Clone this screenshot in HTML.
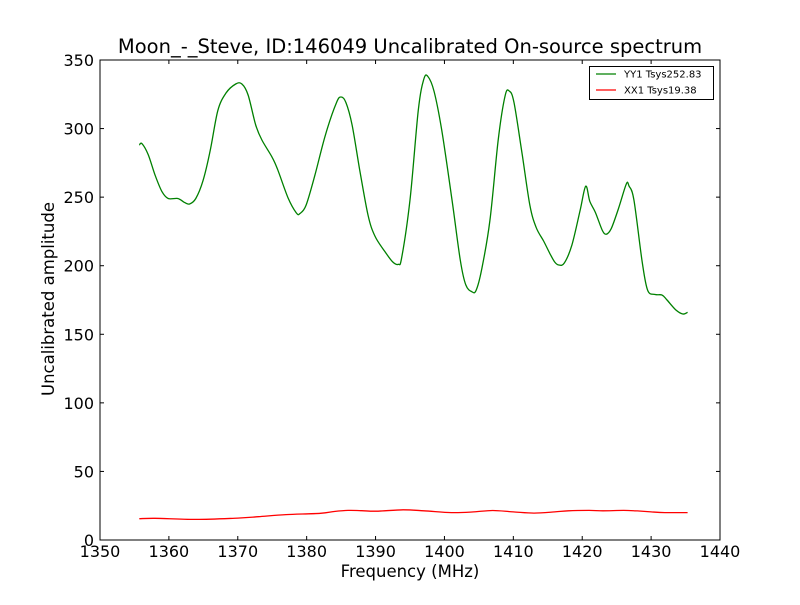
<!DOCTYPE html>
<html><head><meta charset="utf-8"><style>
body{margin:0;background:#fff;}
svg text{font-family:"DejaVu Sans","Liberation Sans",sans-serif;}
</style></head><body>
<svg id="chart" width="800" height="600" viewBox="0 0 800 600">
<rect width="800" height="600" fill="#fff"/>
<text x="410" y="53" font-size="19.5" text-anchor="middle">Moon_-_Steve, ID:146049 Uncalibrated On-source spectrum</text>
<g id="ticks"></g>
<g id="series"></g>
<rect x="100" y="60" width="620" height="480" fill="none" stroke="#000" stroke-width="1"/>
<text x="410" y="577" font-size="16.5" text-anchor="middle">Frequency (MHz)</text>
<text transform="translate(54,299) rotate(-90)" font-size="16.5" text-anchor="middle">Uncalibrated amplitude</text>
<g>
<rect x="589.5" y="66.5" width="124" height="33" fill="#fff" stroke="#000" stroke-width="1"/>
<line x1="596" y1="74" x2="616" y2="74" stroke="#008000" stroke-width="1.2"/>
<text x="624" y="77.5" font-size="10">YY1 Tsys252.83</text>
<line x1="596" y1="90" x2="616" y2="90" stroke="#ff0000" stroke-width="1.2"/>
<text x="624" y="93.5" font-size="10">XX1 Tsys19.38</text>
</g>
</svg>
<script>
const xTicks=[1350,1360,1370,1380,1390,1400,1410,1420,1430,1440];
const yTicks=[0,50,100,150,200,250,300,350];
const yyFreq=[1355.7,1356.1,1357,1358,1359,1359.9,1361.3,1362.3,1363,1363.9,1364.95,1366,1367.1,1368.3,1369.7,1370.6,1371.5,1372.6,1373.5,1375,1375.8,1377.3,1378.5,1379,1379.9,1381.2,1382.7,1384.3,1385,1385.7,1386.6,1387.7,1388.9,1389.9,1391.4,1392.5,1393.3,1393.8,1395,1396.2,1397,1397.6,1398.5,1399.6,1401.1,1402.3,1403.1,1404,1404.6,1405.4,1406.6,1407.8,1408.8,1409.4,1410.1,1411.3,1412.4,1413.3,1414.4,1415.3,1416,1416.6,1417.4,1418.5,1419.7,1420.5,1421.1,1421.9,1422.9,1423.5,1424.2,1425.2,1426.4,1426.8,1427.5,1428.7,1429.5,1430.6,1431.6,1432.3,1433.6,1434.6,1435.3];
const yyVals=[288,289,281,266,254,249,249,246,245,249,262,284,313,326,332.5,332.5,324.5,302.6,291.7,279,270,249.4,238.5,238,244,266,295,318.6,323,319,302.6,269.8,237,221.7,210,202.7,201,206,248,313.5,336,338,327,299,248,204,186,181,182,197,233,291.7,323.8,327.4,319,280.7,244,228,218,209,202.7,200.5,202,215,240.6,258,247,239,226,223,227,240.6,259.6,258,248,202.7,182,179,178.6,175,167.7,164.8,166];
const xxFreq=[1355.7,1358,1364,1370,1373,1377,1382,1384,1386,1388,1390,1394,1397,1401,1404,1407,1410,1413,1416,1418,1421,1423,1426,1428,1430,1432,1435.3];
const xxVals=[15.5,15.8,15,16,17,18.5,19.5,20.8,21.6,21.4,21,22,21.3,20,20.4,21.5,20.5,19.6,20.5,21.3,21.6,21.3,21.6,21.2,20.5,20,20];
const X=f=>100+(f-1350)*620/90;
const Y=v=>540-v*480/350;
const NS="http://www.w3.org/2000/svg";
const tg=document.getElementById('ticks');
xTicks.forEach(t=>{
  [[540,536],[60,64]].forEach(p=>{const l=document.createElementNS(NS,'line');l.setAttribute('x1',X(t));l.setAttribute('x2',X(t));l.setAttribute('y1',p[0]);l.setAttribute('y2',p[1]);l.setAttribute('stroke','#000');
  
  
  tg.appendChild(l);});
  const tx=document.createElementNS(NS,'text');tx.setAttribute('x',X(t));tx.setAttribute('y',557);tx.setAttribute('font-size','16');tx.setAttribute('text-anchor','middle');tx.textContent=t;
  
  
  tg.appendChild(tx);
});
yTicks.forEach(t=>{
  [[100,104],[720,716]].forEach(p=>{const l=document.createElementNS(NS,'line');l.setAttribute('y1',Y(t));l.setAttribute('y2',Y(t));l.setAttribute('x1',p[0]);l.setAttribute('x2',p[1]);l.setAttribute('stroke','#000');
  
  
  tg.appendChild(l);});
  const tx=document.createElementNS(NS,'text');tx.setAttribute('x',94);tx.setAttribute('y',Y(t)+6);tx.setAttribute('font-size','16');tx.setAttribute('text-anchor','end');tx.textContent=t;
  
  
  tg.appendChild(tx);
});
const sg=document.getElementById('series');
function line(fs,vs,color,name){
  const pts=fs.map((f,i)=>[X(f),Y(vs[i])]);
  let d='M'+pts[0][0].toFixed(1)+','+pts[0][1].toFixed(1);
  for(let i=0;i<pts.length-1;i++){
    const p0=pts[Math.max(i-1,0)],p1=pts[i],p2=pts[i+1],p3=pts[Math.min(i+2,pts.length-1)];
    const c1=[p1[0]+(p2[0]-p0[0])/6,p1[1]+(p2[1]-p0[1])/6];
    const c2=[p2[0]-(p3[0]-p1[0])/6,p2[1]-(p3[1]-p1[1])/6];
    d+=' C'+c1.map(v=>v.toFixed(1)).join(',')+' '+c2.map(v=>v.toFixed(1)).join(',')+' '+p2.map(v=>v.toFixed(1)).join(',');
  }
  const p=document.createElementNS(NS,'path');
  p.setAttribute('d',d);
  p.setAttribute('fill','none');p.setAttribute('stroke',color);p.setAttribute('stroke-width','1.3');p.setAttribute('stroke-linejoin','round');
  
  
  sg.appendChild(p);
}
line(yyFreq,yyVals,'#008000','yy1-line');
line(xxFreq,xxVals,'#ff0000','xx1-line');
</script>
</body></html>
